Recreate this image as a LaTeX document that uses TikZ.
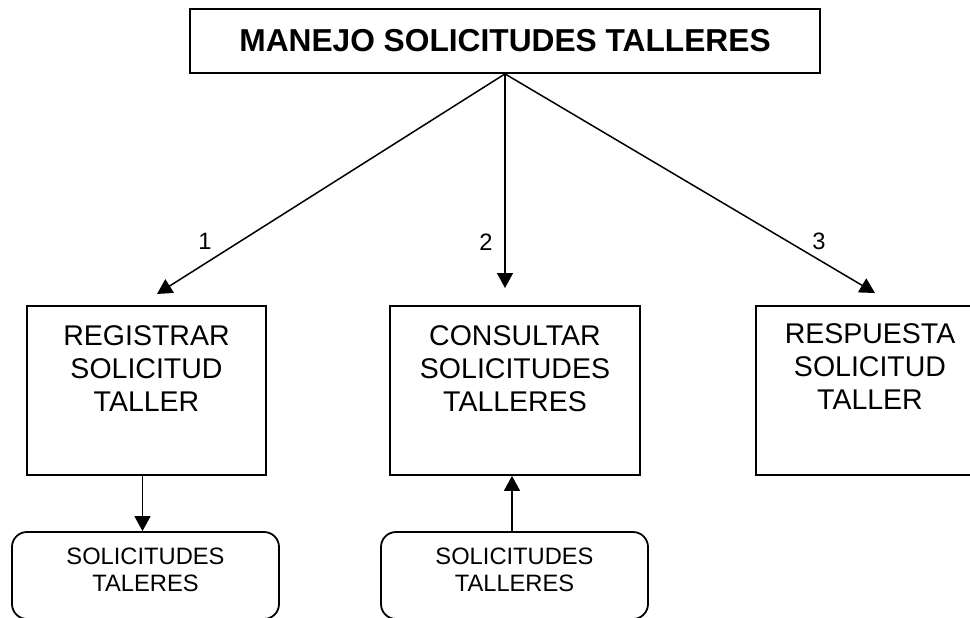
\documentclass[tikz,border=0pt]{standalone}
\usepackage{fontspec}
\setmainfont{Liberation Sans}
\usetikzlibrary{arrows.meta,calc}
\begin{document}
\begin{tikzpicture}[x=1pt,y=-1pt,
  box/.style={draw=black, line width=1.8pt, inner sep=0pt},
  dbbox/.style={draw=black, line width=1.8pt, rounded corners=15pt, inner sep=0pt,
    minimum width=267pt, minimum height=87pt},
  btext/.style={anchor=north, inner sep=0pt, align=center,
    font=\fontsize{28.5}{32.7}\selectfont},
  stext/.style={anchor=north, inner sep=0pt, align=center,
    font=\fontsize{23.7}{26.5}\selectfont},
  lbl/.style={anchor=base, inner sep=0pt, font=\fontsize{23.7}{26.5}\selectfont},
  conn/.style={line width=1.5pt, -{Triangle[length=15pt,width=16pt]}}]
\useasboundingbox (0,0) rectangle (970,618);

% title
\node[box, minimum width=630pt, minimum height=64pt,
  font=\bfseries\fontsize{31.7}{36}\selectfont] (title) at (505,41) {MANEJO SOLICITUDES TALLERES};

% process boxes
\node[box, minimum width=239pt, minimum height=169pt] (reg) at (146.5,390.5) {};
\node[box, minimum width=250pt, minimum height=169pt] (cons) at (515,390.5) {};
\node[box, minimum width=228pt, minimum height=169pt] (resp) at (870,390.5) {};
\node[btext] (regt) at ($(reg.north)+(0,20.5)$) {REGISTRAR\\SOLICITUD\\TALLER};
\node[btext] (const) at ($(cons.north)+(0,20.5)$) {CONSULTAR\\SOLICITUDES\\TALLERES};
\node[btext] (respt) at ($(resp.north)+(0,18.5)$) {RESPUESTA\\SOLICITUD\\TALLER};

% data stores
\node[dbbox] (dbL) at (145.5,575.5) {};
\node[dbbox] (dbM) at (514.5,575.5) {};
\node[stext] (dbLt) at ($(dbL.north)+(0,17)$) {SOLICITUDES\\TALERES};
\node[stext] (dbMt) at ($(dbM.north)+(0,17)$) {SOLICITUDES\\TALLERES};

% arrow ends
\coordinate (tipL) at (157,294);
\coordinate (tipM) at (505,288);
\coordinate (tipR) at (875,293);

\draw[conn] (title.south) -- (tipL);
\draw[conn] (title.south) -- (tipM);
\draw[conn] (title.south) -- (tipR);

\node[lbl] (n1) at (205,249) {1};
\node[lbl] (n2) at (486,250) {2};
\node[lbl] (n3) at (819,249) {3};

\draw[conn] ($(reg.south)+(-4,0)$) -- ($(dbL.north)+(-3,0)$);
\draw[conn] ($(dbM.north)+(-2.5,0)$) -- ($(cons.south)+(-3,0)$);
\end{tikzpicture}
\end{document}
